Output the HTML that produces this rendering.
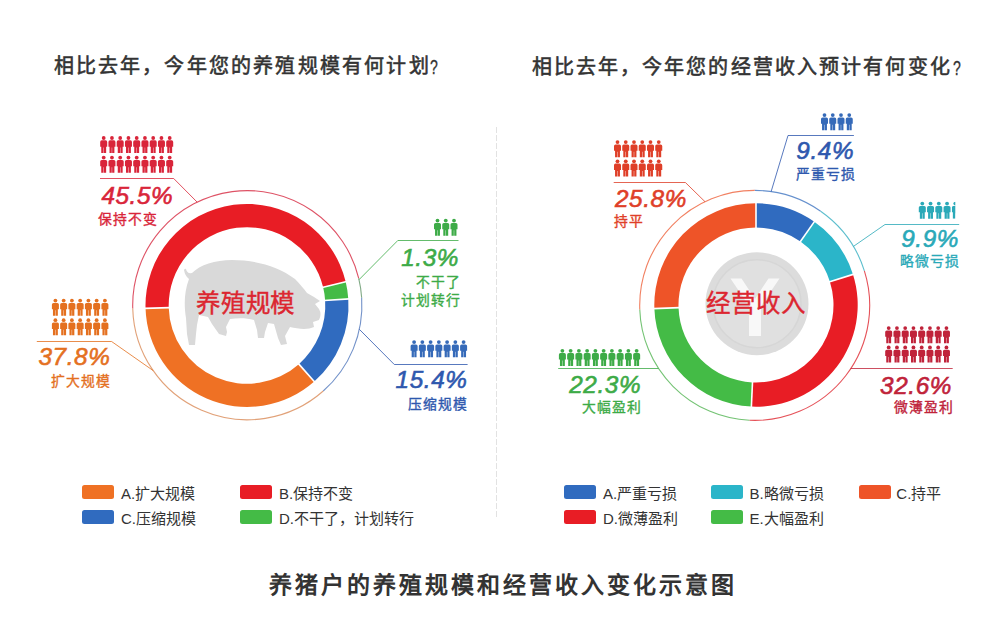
<!DOCTYPE html>
<html lang="zh-CN"><head><meta charset="utf-8"><title>养猪户的养殖规模和经营收入变化示意图</title>
<style>
html,body{margin:0;padding:0;background:#fff;}
body{width:1000px;height:644px;position:relative;overflow:hidden;font-family:"Liberation Sans",sans-serif;}
.g{position:absolute;left:0;top:0;}
.t{position:absolute;white-space:nowrap;line-height:1;}
.ttl{letter-spacing:2.2px;-webkit-text-stroke:0.55px #333;}
.q{font-size:20px;color:#333;transform:scaleX(0.7);transform-origin:0 0;-webkit-text-stroke:0.35px #333;}
.btl{letter-spacing:3.0px;font-weight:bold;}
.ctr{letter-spacing:0.9px;-webkit-text-stroke:0.4px #dc2630;}
.pct{font-size:24.3px;letter-spacing:0.6px;font-style:italic;-webkit-text-stroke:0.6px currentColor;}
.sub{font-size:13.8px;letter-spacing:0.9px;line-height:18px;-webkit-text-stroke:0.35px currentColor;}
.lg{font-size:15px;color:#333;line-height:18px;}
.sw{position:absolute;width:32px;height:14px;border-radius:2.5px;}
</style></head><body>
<svg class="g" width="1000" height="644" viewBox="0 0 1000 644">
<defs>
<symbol id="pp" viewBox="0 0 7 17" width="7" height="17" overflow="visible">
<circle cx="3.5" cy="1.9" r="1.9"/>
<path d="M1.6,4.2 H5.4 Q7,4.2 7,5.8 V10.6 H5.95 V17 H3.7 V11.5 H3.3 V17 H1.05 V10.6 H0 V5.8 Q0,4.2 1.6,4.2 Z"/>
</symbol>
</defs>
<line x1="496.5" y1="127" x2="496.5" y2="518" stroke="#e2e2e2" stroke-width="1" stroke-dasharray="6,2"/>
<path d="M192,273 C200,265 215,260 232,260 C255,260 278,266 295,279 C300,284 304,289 307,293 L314,297 L320,301 L315,304 L319,309 Q322,314 319,320 L313,322 L314,327 C308,330 298,329 290,327 L285,336 L287,344 L281,345 L278,338 L274,324 L268,323 L265,332 L264,338 L258,338 L257,330 L254,320 C247,318 238,318 230,319 L226,327 L227,332 L226,336 L219,334 L212,324 L208,317 L199,315 L197,325 L196,334 L195,345 L189,345 L187,334 L186,318 C184,306 184,292 189,279 Q185,276 184,270 Q185,268 186,269 Q187,274 192,273 Z" fill="#d9d9d9"/>
<circle cx="757" cy="303.7" r="51.5" fill="#dcdcdc"/>
<circle cx="757" cy="303.7" r="44" fill="#e0e0e0" stroke="#d6d6d6" stroke-width="1.5"/>
<path d="M730.5,278.5 L741.5,278.5 L755,299 L768.5,278.5 L779.5,278.5 L761,306 L761,336 L749,336 L749,306 Z" fill="#f8f8f8"/>
<path d="M145.54,308.33A101.5,101.5 0 0 1 345.70,281.81L323.14,287.22A78.3,78.3 0 0 0 168.73,307.69Z" fill="#e81d25"/>
<path d="M345.70,281.81A101.5,101.5 0 0 1 348.29,298.95L325.14,300.45A78.3,78.3 0 0 0 323.14,287.22Z" fill="#44bb46"/>
<path d="M348.29,298.95A101.5,101.5 0 0 1 314.26,381.52L298.88,364.14A78.3,78.3 0 0 0 325.14,300.45Z" fill="#306bbf"/>
<path d="M314.26,381.52A101.5,101.5 0 0 1 145.54,308.33L168.73,307.69A78.3,78.3 0 0 0 298.88,364.14Z" fill="#ef7124"/>
<line x1="169.73" y1="307.66" x2="144.54" y2="308.36" stroke="#fff" stroke-width="1.6"/>
<line x1="322.16" y1="287.45" x2="346.67" y2="281.57" stroke="#fff" stroke-width="1.6"/>
<line x1="324.14" y1="300.51" x2="349.29" y2="298.89" stroke="#fff" stroke-width="1.6"/>
<line x1="298.22" y1="363.39" x2="314.92" y2="382.27" stroke="#fff" stroke-width="1.6"/>
<path d="M756.00,203.30A101.7,101.7 0 0 1 814.33,221.69L800.45,241.52A77.5,77.5 0 0 0 756.00,227.50Z" fill="#306bbf"/>
<path d="M814.33,221.69A101.7,101.7 0 0 1 852.99,274.42L829.91,281.70A77.5,77.5 0 0 0 800.45,241.52Z" fill="#2bb5c9"/>
<path d="M852.99,274.42A101.7,101.7 0 0 1 751.39,406.60L752.48,382.42A77.5,77.5 0 0 0 829.91,281.70Z" fill="#e81d25"/>
<path d="M751.39,406.60A101.7,101.7 0 0 1 654.36,308.55L678.55,307.70A77.5,77.5 0 0 0 752.48,382.42Z" fill="#44bb46"/>
<path d="M654.36,308.55A101.7,101.7 0 0 1 756.00,203.30L756.00,227.50A77.5,77.5 0 0 0 678.55,307.70Z" fill="#ee5428"/>
<line x1="756.00" y1="228.50" x2="756.00" y2="202.30" stroke="#fff" stroke-width="1.6"/>
<line x1="799.88" y1="242.33" x2="814.91" y2="220.87" stroke="#fff" stroke-width="1.6"/>
<line x1="828.96" y1="282.00" x2="853.95" y2="274.12" stroke="#fff" stroke-width="1.6"/>
<line x1="752.53" y1="381.42" x2="751.34" y2="407.59" stroke="#fff" stroke-width="1.6"/>
<line x1="679.55" y1="307.67" x2="653.36" y2="308.58" stroke="#fff" stroke-width="1.6"/>
<path d="M132.74,308.40A114.6,114.6 0 0 1 358.73,278.45" fill="none" stroke="#d8344a" stroke-width="1.1" opacity="0.85"/>
<path d="M358.73,278.45A114.6,114.6 0 0 1 361.66,297.80" fill="none" stroke="#6a9a70" stroke-width="1.1" opacity="0.85"/>
<path d="M361.66,297.80A114.6,114.6 0 0 1 323.24,391.03" fill="none" stroke="#5a7fc0" stroke-width="1.1" opacity="0.85"/>
<path d="M323.24,391.03A114.6,114.6 0 0 1 132.74,308.40" fill="none" stroke="#dc9060" stroke-width="1.1" opacity="0.85"/>
<path d="M754.70,190.40A115,115 0 0 1 820.66,211.20" fill="none" stroke="#4a7cc4" stroke-width="1.1" opacity="0.85"/>
<path d="M820.66,211.20A115,115 0 0 1 864.38,270.82" fill="none" stroke="#3fb3c4" stroke-width="1.1" opacity="0.85"/>
<path d="M864.38,270.82A115,115 0 0 1 749.48,420.28" fill="none" stroke="#e0343c" stroke-width="1.1" opacity="0.85"/>
<path d="M749.48,420.28A115,115 0 0 1 639.77,309.41" fill="none" stroke="#5cb85c" stroke-width="1.1" opacity="0.85"/>
<path d="M639.77,309.41A115,115 0 0 1 754.70,190.40" fill="none" stroke="#ee6a45" stroke-width="1.1" opacity="0.85"/>
<polyline points="100.00,178.50 173.70,178.50 197.16,202.15" fill="none" stroke="#d9253a" stroke-width="1" opacity="0.8"/>
<polyline points="36.80,341.50 111.60,341.50 153.21,370.62" fill="none" stroke="#e4701f" stroke-width="1" opacity="0.8"/>
<polyline points="458.50,240.50 397.80,240.50 359.02,279.69" fill="none" stroke="#3dab47" stroke-width="1" opacity="0.8"/>
<polyline points="467.60,364.50 394.30,364.50 359.33,329.32" fill="none" stroke="#2e58ae" stroke-width="1" opacity="0.8"/>
<polyline points="613.70,182.50 685.40,182.50 705.00,201.70" fill="none" stroke="#df3f28" stroke-width="1" opacity="0.8"/>
<polyline points="853.90,135.50 788.00,135.50 771.13,191.58" fill="none" stroke="#2e58ae" stroke-width="1" opacity="0.8"/>
<polyline points="959.20,224.50 885.00,224.50 853.42,246.41" fill="none" stroke="#2aa9b8" stroke-width="1" opacity="0.8"/>
<polyline points="952.70,368.50 850.58,368.50" fill="none" stroke="#c0233a" stroke-width="1" opacity="0.8"/>
<polyline points="558.20,368.50 658.56,368.50" fill="none" stroke="#3dab47" stroke-width="1" opacity="0.8"/>
<use href="#pp" x="100.20" y="136.10" fill="#d9253a"/>
<use href="#pp" x="108.45" y="136.10" fill="#d9253a"/>
<use href="#pp" x="116.70" y="136.10" fill="#d9253a"/>
<use href="#pp" x="124.95" y="136.10" fill="#d9253a"/>
<use href="#pp" x="133.20" y="136.10" fill="#d9253a"/>
<use href="#pp" x="141.45" y="136.10" fill="#d9253a"/>
<use href="#pp" x="149.70" y="136.10" fill="#d9253a"/>
<use href="#pp" x="157.95" y="136.10" fill="#d9253a"/>
<use href="#pp" x="166.20" y="136.10" fill="#d9253a"/>
<use href="#pp" x="100.20" y="155.70" fill="#d9253a"/>
<use href="#pp" x="108.45" y="155.70" fill="#d9253a"/>
<use href="#pp" x="116.70" y="155.70" fill="#d9253a"/>
<use href="#pp" x="124.95" y="155.70" fill="#d9253a"/>
<use href="#pp" x="133.20" y="155.70" fill="#d9253a"/>
<use href="#pp" x="141.45" y="155.70" fill="#d9253a"/>
<use href="#pp" x="149.70" y="155.70" fill="#d9253a"/>
<use href="#pp" x="157.95" y="155.70" fill="#d9253a"/>
<use href="#pp" x="166.20" y="155.70" fill="#d9253a"/>
<use href="#pp" x="51.90" y="298.70" fill="#e4701f"/>
<use href="#pp" x="60.15" y="298.70" fill="#e4701f"/>
<use href="#pp" x="68.40" y="298.70" fill="#e4701f"/>
<use href="#pp" x="76.65" y="298.70" fill="#e4701f"/>
<use href="#pp" x="84.90" y="298.70" fill="#e4701f"/>
<use href="#pp" x="93.15" y="298.70" fill="#e4701f"/>
<use href="#pp" x="101.40" y="298.70" fill="#e4701f"/>
<use href="#pp" x="51.90" y="318.30" fill="#e4701f"/>
<use href="#pp" x="60.15" y="318.30" fill="#e4701f"/>
<use href="#pp" x="68.40" y="318.30" fill="#e4701f"/>
<use href="#pp" x="76.65" y="318.30" fill="#e4701f"/>
<use href="#pp" x="84.90" y="318.30" fill="#e4701f"/>
<use href="#pp" x="93.15" y="318.30" fill="#e4701f"/>
<use href="#pp" x="101.40" y="318.30" fill="#e4701f"/>
<use href="#pp" x="434.00" y="218.70" fill="#3dab47"/>
<use href="#pp" x="442.25" y="218.70" fill="#3dab47"/>
<use href="#pp" x="450.50" y="218.70" fill="#3dab47"/>
<use href="#pp" x="410.60" y="340.20" fill="#356ab9"/>
<use href="#pp" x="418.85" y="340.20" fill="#356ab9"/>
<use href="#pp" x="427.10" y="340.20" fill="#356ab9"/>
<use href="#pp" x="435.35" y="340.20" fill="#356ab9"/>
<use href="#pp" x="443.60" y="340.20" fill="#356ab9"/>
<use href="#pp" x="451.85" y="340.20" fill="#356ab9"/>
<use href="#pp" x="460.10" y="340.20" fill="#356ab9"/>
<use href="#pp" x="614.00" y="140.20" fill="#df3f28"/>
<use href="#pp" x="622.25" y="140.20" fill="#df3f28"/>
<use href="#pp" x="630.50" y="140.20" fill="#df3f28"/>
<use href="#pp" x="638.75" y="140.20" fill="#df3f28"/>
<use href="#pp" x="647.00" y="140.20" fill="#df3f28"/>
<use href="#pp" x="655.25" y="140.20" fill="#df3f28"/>
<use href="#pp" x="614.00" y="159.40" fill="#df3f28"/>
<use href="#pp" x="622.25" y="159.40" fill="#df3f28"/>
<use href="#pp" x="630.50" y="159.40" fill="#df3f28"/>
<use href="#pp" x="638.75" y="159.40" fill="#df3f28"/>
<use href="#pp" x="647.00" y="159.40" fill="#df3f28"/>
<use href="#pp" x="655.25" y="159.40" fill="#df3f28"/>
<use href="#pp" x="821.00" y="113.20" fill="#356ab9"/>
<use href="#pp" x="829.25" y="113.20" fill="#356ab9"/>
<use href="#pp" x="837.50" y="113.20" fill="#356ab9"/>
<use href="#pp" x="845.75" y="113.20" fill="#356ab9"/>
<use href="#pp" x="918.80" y="201.70" fill="#2aa9b8"/>
<use href="#pp" x="927.05" y="201.70" fill="#2aa9b8"/>
<use href="#pp" x="935.30" y="201.70" fill="#2aa9b8"/>
<use href="#pp" x="943.55" y="201.70" fill="#2aa9b8"/>
<svg x="951.80" y="201.70" width="3.50" height="17" overflow="hidden"><use href="#pp" fill="#2aa9b8"/></svg>
<use href="#pp" x="885.20" y="326.20" fill="#c0233a"/>
<use href="#pp" x="893.45" y="326.20" fill="#c0233a"/>
<use href="#pp" x="901.70" y="326.20" fill="#c0233a"/>
<use href="#pp" x="909.95" y="326.20" fill="#c0233a"/>
<use href="#pp" x="918.20" y="326.20" fill="#c0233a"/>
<use href="#pp" x="926.45" y="326.20" fill="#c0233a"/>
<use href="#pp" x="934.70" y="326.20" fill="#c0233a"/>
<use href="#pp" x="942.95" y="326.20" fill="#c0233a"/>
<use href="#pp" x="885.20" y="345.50" fill="#c0233a"/>
<use href="#pp" x="893.45" y="345.50" fill="#c0233a"/>
<use href="#pp" x="901.70" y="345.50" fill="#c0233a"/>
<use href="#pp" x="909.95" y="345.50" fill="#c0233a"/>
<use href="#pp" x="918.20" y="345.50" fill="#c0233a"/>
<use href="#pp" x="926.45" y="345.50" fill="#c0233a"/>
<use href="#pp" x="934.70" y="345.50" fill="#c0233a"/>
<use href="#pp" x="942.95" y="345.50" fill="#c0233a"/>
<use href="#pp" x="558.90" y="348.90" fill="#3dab47"/>
<use href="#pp" x="567.15" y="348.90" fill="#3dab47"/>
<use href="#pp" x="575.40" y="348.90" fill="#3dab47"/>
<use href="#pp" x="583.65" y="348.90" fill="#3dab47"/>
<use href="#pp" x="591.90" y="348.90" fill="#3dab47"/>
<use href="#pp" x="600.15" y="348.90" fill="#3dab47"/>
<use href="#pp" x="608.40" y="348.90" fill="#3dab47"/>
<use href="#pp" x="616.65" y="348.90" fill="#3dab47"/>
<use href="#pp" x="624.90" y="348.90" fill="#3dab47"/>
<use href="#pp" x="633.15" y="348.90" fill="#3dab47"/>
</svg>
<div class="t ttl" style="left:53.5px;top:56px;font-size:20px;color:#333;">相比去年，今年您的养殖规模有何计划</div>
<div class="t ttl" style="left:531.5px;top:57px;font-size:20px;color:#333;letter-spacing:2.12px;">相比去年，今年您的经营收入预计有何变化</div>
<div class="t btl" style="left:269.2px;top:574.3px;font-size:23px;color:#333;">养猪户的养殖规模和经营收入变化示意图</div>
<div class="t q" style="left:430.2px;top:57.2px">?</div>
<div class="t q" style="left:952.6px;top:58.3px">?</div>
<div class="t ctr" style="left:195.8px;top:292px;font-size:24.5px;color:#dc2630;">养殖规模</div>
<div class="t ctr" style="left:706px;top:292.3px;font-size:24.5px;color:#dc2630;">经营收入</div>
<div class="t pct" style="left:101.4px;top:184.4px;color:#d9253a">45.5%</div>
<div class="t sub" style="left:98.2px;top:211.2px;color:#d9253a;">保持不变</div>
<div class="t pct" style="left:20.400000000000006px;width:90px;text-align:right;top:344.8px;color:#e4701f">37.8%</div>
<div class="t sub" style="left:20.9px;width:90px;text-align:right;top:372.6px;color:#e4701f;">扩大规模</div>
<div class="t pct" style="left:369px;width:90px;text-align:right;top:245.6px;color:#3dab47">1.3%</div>
<div class="t sub" style="left:370.9px;width:90px;text-align:right;top:273.9px;color:#3dab47;line-height:18.5px;">不干了<br>计划转行</div>
<div class="t pct" style="left:377.5px;width:90px;text-align:right;top:368.3px;color:#2e58ae">15.4%</div>
<div class="t sub" style="left:377.9px;width:90px;text-align:right;top:396.0px;color:#2e58ae;">压缩规模</div>
<div class="t pct" style="left:615px;top:186.7px;color:#df3f28">25.8%</div>
<div class="t sub" style="left:614px;top:213.3px;color:#df3f28;">持平</div>
<div class="t pct" style="left:764.1px;width:90px;text-align:right;top:138.5px;color:#2e58ae">9.4%</div>
<div class="t sub" style="left:765.9px;width:90px;text-align:right;top:166.1px;color:#2e58ae;">严重亏损</div>
<div class="t pct" style="left:869px;width:90px;text-align:right;top:227px;color:#2aa9b8">9.9%</div>
<div class="t sub" style="left:869.9px;width:90px;text-align:right;top:252.6px;color:#2aa9b8;">略微亏损</div>
<div class="t pct" style="left:862px;width:90px;text-align:right;top:374.4px;color:#c0233a">32.6%</div>
<div class="t sub" style="left:863.9px;width:90px;text-align:right;top:398.6px;color:#c0233a;">微薄盈利</div>
<div class="t pct" style="left:551.1px;width:90px;text-align:right;top:372.5px;color:#3dab47">22.3%</div>
<div class="t sub" style="left:551.9px;width:90px;text-align:right;top:398.9px;color:#3dab47;">大幅盈利</div>
<div class="sw" style="left:82px;top:485px;background:#ef7124"></div><div class="t lg" style="left:121px;top:485px">A.扩大规模</div>
<div class="sw" style="left:240px;top:485px;background:#e81d25"></div><div class="t lg" style="left:279px;top:485px">B.保持不变</div>
<div class="sw" style="left:82px;top:510.2px;background:#306bbf"></div><div class="t lg" style="left:121px;top:509.7px">C.压缩规模</div>
<div class="sw" style="left:240px;top:510.2px;background:#44bb46"></div><div class="t lg" style="left:279px;top:509.7px">D.不干了，计划转行</div>
<div class="sw" style="left:563.6px;top:485px;background:#306bbf"></div><div class="t lg" style="left:603px;top:485px">A.严重亏损</div>
<div class="sw" style="left:711px;top:485px;background:#2bb5c9"></div><div class="t lg" style="left:749.4px;top:485px">B.略微亏损</div>
<div class="sw" style="left:858.6px;top:485px;background:#ee5428"></div><div class="t lg" style="left:896.3px;top:485px">C.持平</div>
<div class="sw" style="left:563.6px;top:510.2px;background:#e81d25"></div><div class="t lg" style="left:603px;top:509.7px">D.微薄盈利</div>
<div class="sw" style="left:711px;top:510.2px;background:#44bb46"></div><div class="t lg" style="left:749.4px;top:509.7px">E.大幅盈利</div>
</body></html>
